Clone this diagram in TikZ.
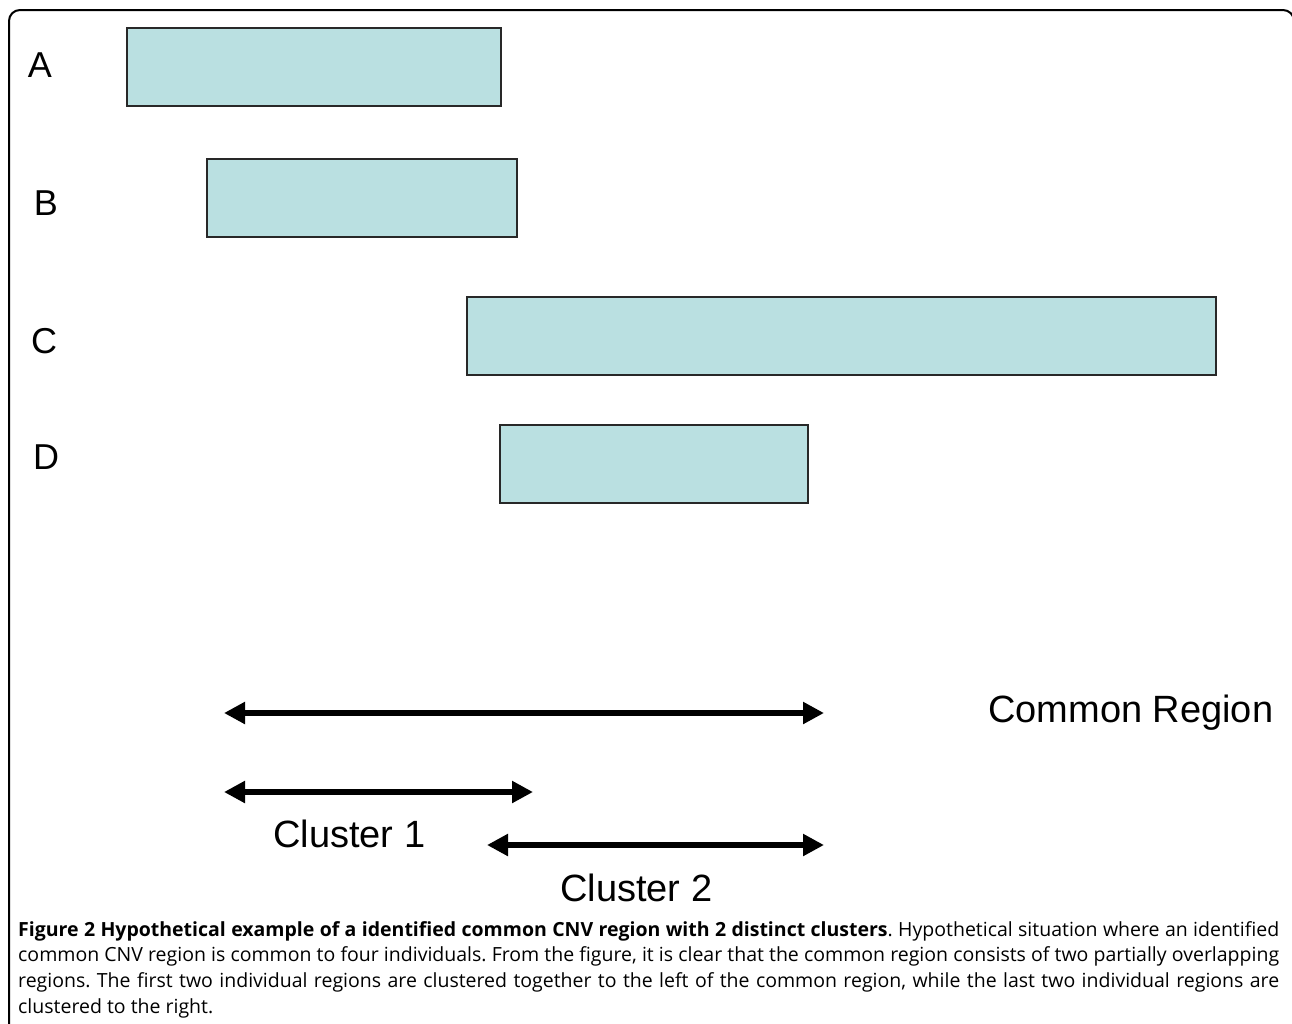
\documentclass[tikz,border=0pt]{standalone}
\usepackage{fontspec}
\newfontfamily\arialf{Liberation Sans}
\newfontfamily\capf{Open Sans}
\usetikzlibrary{arrows.meta}
\definecolor{boxfill}{RGB}{186,224,225}
\definecolor{boxline}{RGB}{40,40,40}
\tikzset{
  region/.style={draw=boxline, fill=boxfill, line width=2pt, anchor=north west, inner sep=0pt, outer sep=0pt},
  letter/.style={font=\arialf\fontsize{36}{40}\selectfont, inner sep=0pt},
  biglabel/.style={font=\arialf\fontsize{38}{40}\selectfont, inner sep=0pt},
  dblarrow/.style={line width=6pt, {Triangle[length=21pt,width=21pt]}-{Triangle[length=21pt,width=21pt]}}
}
\begin{document}
\begin{tikzpicture}[x=1pt,y=-1pt]
\useasboundingbox (0,0) rectangle (1292,1023);
\fill[white] (0,0) rectangle (1292,1023);
\draw[line width=2pt, rounded corners=11pt] (9,1040) -- (9,10) -- (1294,10) -- (1294,1040);

% boxes
\node[region, minimum width=374pt, minimum height=78pt] (bA) at (127,28) {};
\node[region, minimum width=310pt, minimum height=78pt] (bB) at (207,159) {};
\node[region, minimum width=749pt, minimum height=78pt] (bC) at (467,297) {};
\node[region, minimum width=308pt, minimum height=78pt] (bD) at (500,425) {};

% letters
\node[letter] (lA) at (40,65) {A};
\node[letter] (lB) at (46,203) {B};
\node[letter] (lC) at (44,341) {C};
\node[letter] (lD) at (46,457) {D};

% arrows
\coordinate (cr1) at (224,713);
\coordinate (cr2) at (824,713);
\coordinate (ca1) at (224,792);
\coordinate (ca2) at (533,792);
\coordinate (cb1) at (487,845);
\coordinate (cb2) at (824,845);
\draw[dblarrow] (cr1) -- (cr2);
\draw[dblarrow] (ca1) -- (ca2);
\draw[dblarrow] (cb1) -- (cb2);

\node[biglabel, anchor=west] (tcr) at (988,713) {Common Region};
\node[biglabel, anchor=west] (tc1) at (273,834) {Cluster 1};
\node[biglabel, anchor=west] (tc2) at (560,888) {Cluster 2};

% caption
\node[anchor=north west, inner sep=0pt, text width=1261pt, align=justify,
      font=\capf\fontsize{19.5}{25.7}\selectfont\frenchspacing] (cap) at (18,921)
{\textbf{Figure 2 Hypothetical example of a identified common CNV region with 2 distinct clusters}. Hypothetical situation where an identified\linebreak
common CNV region is common to four individuals. From the figure, it is clear that the common region consists of two partially overlapping\linebreak
regions. The first two individual regions are clustered together to the left of the common region, while the last two individual regions are\linebreak
clustered to the right.};
\end{tikzpicture}
\end{document}
